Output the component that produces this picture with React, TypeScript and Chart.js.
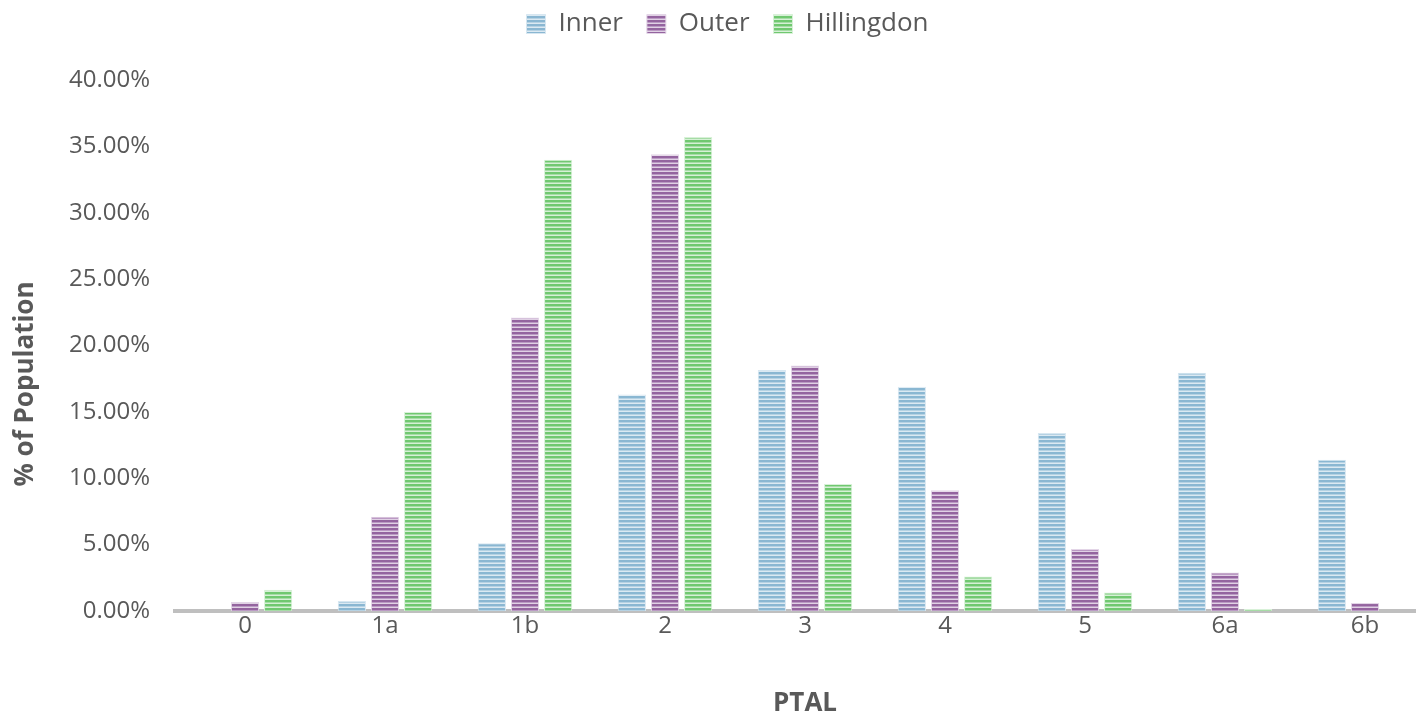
import React, { useEffect, useRef } from "react";
import { Chart, registerables } from "chart.js";

Chart.register(...registerables);

const categories = ["0", "1a", "1b", "2", "3", "4", "5", "6a", "6b"];
const innerValues = [0, 0.75, 5.1, 16.3, 18.15, 16.9, 13.4, 17.95, 11.4];
const outerValues = [0.68, 7.1, 22.1, 34.4, 18.5, 9.1, 4.67, 2.9, 0.6];
const hillingdonValues = [1.6, 15.0, 34.0, 35.7, 9.56, 2.6, 1.4, 0.15, 0];
const seriesNames = ["Inner", "Outer", "Hillingdon"];
const yTicks = [0, 5, 10, 15, 20, 25, 30, 35, 40];
const yTitle = "% of Population";
const xTitle = "PTAL";

function stripe(dark: string, mid: string, light: string): CanvasPattern | string {
  const c = document.createElement("canvas");
  c.width = 4;
  c.height = 4;
  const ctx = c.getContext("2d");
  if (!ctx) return dark;
  ctx.fillStyle = dark;
  ctx.fillRect(0, 0, 4, 2);
  ctx.fillStyle = mid;
  ctx.fillRect(0, 2, 4, 1);
  ctx.fillStyle = light;
  ctx.fillRect(0, 3, 4, 1);
  const p = ctx.createPattern(c, "repeat");
  return p || dark;
}

export default function App() {
  const ref = useRef<HTMLCanvasElement | null>(null);
  useEffect(() => {
    document.body.style.overflow = "hidden";
    const canvas = ref.current;
    if (!canvas) return;
    const fills = [
      stripe("#8ab7d2", "#b6d2e3", "#dbe9f2"),
      stripe("#94649f", "#bb9ac4", "#e0d1e4"),
      stripe("#70c870", "#a6dca6", "#d6f0d6"),
    ];
    const borders = ["#d7e7f1", "#e3d5e7", "#d8f1d8"];
    const data = [innerValues, outerValues, hillingdonValues];
    const legendSpacer = {
      id: "legendSpacer",
      beforeUpdate(chart: any) {
        const lg = chart.legend;
        if (lg && !lg.__wrapped) {
          const orig = lg.fit;
          lg.fit = function (this: any) {
            orig.call(this);
            this.height = 80;
          };
          lg.__wrapped = true;
        }
      },
      afterLayout(chart: any) {
        const lg = chart.legend;
        if (lg) {
          lg.left += 10;
          lg.right += 10;
          lg.top -= 13;
          lg.bottom -= 13;
        }
      },
      afterDraw(chart: any) {
        const ctx = chart.ctx;
        ctx.save();
        ctx.fillStyle = "#595959";
        ctx.font = "bold 26px 'Open Sans'";
        ctx.textAlign = "center";
        ctx.textBaseline = "middle";
        ctx.translate(26, 384);
        ctx.rotate(-Math.PI / 2);
        ctx.fillText(yTitle, 0, 0);
        ctx.restore();
      },
    };
    const chart = new Chart(canvas, {
      type: "bar",
      data: {
        labels: categories,
        datasets: seriesNames.map((name, i) => ({
          label: name,
          data: data[i],
          backgroundColor: fills[i] as any,
          borderColor: borders[i],
          borderWidth: 1,
          categoryPercentage: 0.71,
          barPercentage: 0.85,
        })),
      },
      options: {
        responsive: false,
        animation: false,
        devicePixelRatio: 1,
        layout: { padding: { top: 0, bottom: 0, left: 0, right: 0 } },
        plugins: {
          tooltip: { enabled: false },
          legend: {
            position: "top",
            labels: {
              color: "#595959",
              font: { family: "Open Sans", size: 26 },
              boxWidth: 19,
              boxHeight: 19,
              padding: 24,
            },
          },
        },
        scales: {
          x: {
            afterFit(scale: any) {
              scale.height = 101;
            },
            grid: { display: false, drawTicks: false },
            border: { display: true, color: "#bfbfbf", width: 4 },
            ticks: {
              color: "#595959",
              font: { family: "Open Sans", size: 24 },
              padding: 1,
            },
            title: {
              display: true,
              text: xTitle,
              color: "#595959",
              font: { family: "Open Sans", size: 26, weight: "bold" },
              padding: { top: 0, bottom: -7 },
            },
          },
          y: {
            min: 0,
            max: 40,
            afterBuildTicks(scale: any) {
              scale.ticks = yTicks.map((v) => ({ value: v }));
            },
            afterFit(scale: any) {
              scale.width = 175;
            },
            grid: { display: false, drawTicks: false },
            border: { display: false },
            ticks: {
              color: "#595959",
              font: { family: "Open Sans", size: 24 },
              padding: 25,
              callback: (v: any) => Number(v).toFixed(2) + "%",
            },
            title: { display: false },
          },
        },
      },
      plugins: [legendSpacer],
    });
    return () => chart.destroy();
  }, []);
  return (
    <div style={{ position: "fixed", left: 0, top: 0, width: 1435, height: 712, background: "#fff" }}>
      <canvas ref={ref} width={1435} height={712} style={{ display: "block" }} />
    </div>
  );
}
